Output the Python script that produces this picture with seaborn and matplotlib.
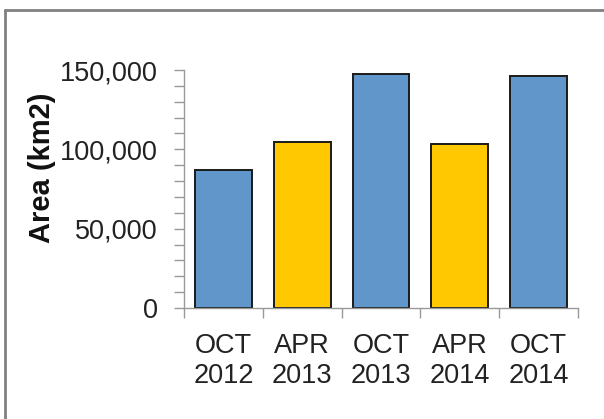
import matplotlib
matplotlib.use("Agg")
import matplotlib.pyplot as plt
import seaborn as sns
import pandas as pd
from matplotlib.ticker import MultipleLocator, FuncFormatter, FixedLocator
from matplotlib.lines import Line2D

# Data
periods = ["OCT\n2012", "APR\n2013", "OCT\n2013", "APR\n2014", "OCT\n2014"]
area_km2 = [86800, 104600, 147200, 103600, 146100]
bar_colors = ["#6096CA", "#FFC800", "#6096CA", "#FFC800", "#6096CA"]

df = pd.DataFrame({"period": periods, "area": area_km2})

sns.set_style("white")
plt.rcParams["font.family"] = ["Liberation Sans", "DejaVu Sans"]

fig = plt.figure(figsize=(6.04, 4.19), dpi=100)
ax = fig.add_axes([184 / 604, 1 - 308 / 419, 394 / 604, 238 / 419])

sns.barplot(data=df, x="period", y="area", hue="period", palette=bar_colors,
            legend=False, width=0.72, edgecolor="#1a1a1a", linewidth=1.4,
            saturation=1, ax=ax)

ax.set_xlim(-0.5, len(periods) - 0.5)
ax.set_ylim(0, 150000)

# y axis: majors every 50k, minors every 10k
ax.yaxis.set_major_locator(MultipleLocator(50000))
ax.yaxis.set_minor_locator(MultipleLocator(10000))
ax.yaxis.set_major_formatter(FuncFormatter(lambda v, p: f"{int(v):,}"))
ax.tick_params(axis="y", which="both", direction="out", length=7, width=1,
               color="#999999", left=True, labelsize=19.5, labelcolor="#222222", pad=12)

# x axis: tick marks at category boundaries, labels at centres
ax.xaxis.set_minor_locator(FixedLocator([i - 0.5 for i in range(len(periods) + 1)]))
ax.tick_params(axis="x", which="minor", direction="out", length=7, width=1,
               color="#999999", bottom=True)
ax.tick_params(axis="x", which="major", length=0, labelsize=19.5,
               labelcolor="#222222", pad=18)

for s in ["top", "right"]:
    ax.spines[s].set_visible(False)
for s in ["left", "bottom"]:
    ax.spines[s].set_color("#999999")
    ax.spines[s].set_linewidth(1)

ax.set_xlabel("")
ax.set_ylabel("Area (km2)", fontsize=21, fontweight="bold", color="#111111")
ax.yaxis.set_label_coords(-0.325, 0.59)

# frame lines (only top and left visible in the crop)
fig.add_artist(Line2D([5 / 604, 5 / 604], [0, 1 - 10 / 419], color="#808080",
                      linewidth=2, transform=fig.transFigure))
fig.add_artist(Line2D([5 / 604, 1], [1 - 10 / 419, 1 - 10 / 419], color="#808080",
                      linewidth=2, transform=fig.transFigure))

fig.savefig("out.png", dpi=100)
